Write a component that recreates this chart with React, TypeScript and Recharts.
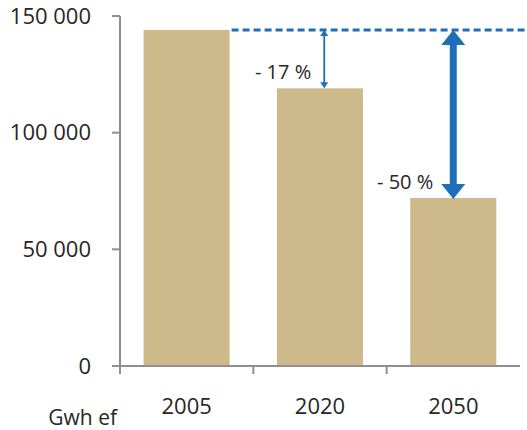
import React from 'react';
import { BarChart, Bar, XAxis, YAxis } from 'recharts';

const years = ['2005', '2020', '2050'];
const consumption = [144000, 119000, 72000];
const yTicks = [0, 50000, 100000, 150000];
const unitLabel = 'Gwh ef';

const data = years.map((year, i) => ({ year, value: consumption[i] }));

const W = 527;
const H = 430;
const BAR = '#CDB98A';
const BLUE = '#1E6EBA';
const AXIS = '#8F8F8F';
const TEXT = '#262626';
const FONT = '"Open Sans", sans-serif';

const fmt = (v: number) => String(v).replace(/\B(?=(\d{3})+(?!\d))/g, ' ');

// bar + the reduction arrow measured against the first year
const BarWithArrow = (props: any) => {
  const { x, y, width, height, index, payload } = props;
  const v = payload.value;
  const base = consumption[0];
  const bottom = y + height;
  const baseY = bottom - (base * height) / v;
  const pct = Math.round((1 - v / base) * 100);

  if (index === 0) {
    return (
      <g>
        <rect x={x} y={y} width={width} height={height} fill={BAR} />
        <line
          x1={x + width + 2}
          x2={W}
          y1={baseY}
          y2={baseY}
          stroke={BLUE}
          strokeWidth={3}
          strokeDasharray="7 4"
        />
      </g>
    );
  }

  const thick = index === 2;
  const ax = thick ? x + width / 2 : x + width * 0.55;
  const hw = thick ? 12 : 4;
  const hh = thick ? 15 : 6;
  const sw = thick ? 7 : 1.8;
  const tipBottom = y + (thick ? 1 : 0);

  return (
    <g>
      <rect x={x} y={y} width={width} height={height} fill={BAR} />
      <line x1={ax} x2={ax} y1={baseY + hh - 1} y2={tipBottom - hh + 1} stroke={BLUE} strokeWidth={sw} />
      <polygon points={`${ax},${baseY} ${ax - hw},${baseY + hh} ${ax + hw},${baseY + hh}`} fill={BLUE} />
      <polygon points={`${ax},${tipBottom} ${ax - hw},${tipBottom - hh} ${ax + hw},${tipBottom - hh}`} fill={BLUE} />
      <text
        x={ax - hw - (thick ? 8 : 9)}
        y={y - 17}
        textAnchor="end"
        dominantBaseline="central"
        fontFamily={FONT}
        fontSize={20}
        fill={TEXT}
      >
        {`- ${pct} %`}
      </text>
    </g>
  );
};

// category label centred, tick mark on the left edge of each band
const XTick = (props: any) => {
  const { x, y, payload } = props;
  const half = payload && payload.offset > 0 ? payload.offset : 400 / years.length / 2;
  return (
    <g>
      <line x1={x - half} x2={x - half} y1={y} y2={y + 8} stroke={AXIS} strokeWidth={2} />
      <text x={x} y={y + 39} textAnchor="middle" dominantBaseline="central" fontFamily={FONT} fontSize={22} fill={TEXT}>
        {payload.value}
      </text>
    </g>
  );
};

const UnitLabel = (props: any) => {
  const { viewBox } = props;
  return (
    <text
      x={viewBox.x - 3}
      y={viewBox.y + 51}
      textAnchor="end"
      dominantBaseline="central"
      fontFamily={FONT}
      fontSize={21}
      fill={TEXT}
    >
      {unitLabel}
    </text>
  );
};

export default function App() {
  return (
    <div style={{ position: 'absolute', left: 0, top: 0, width: W, height: H, background: '#fff' }}>
      <BarChart
        width={W}
        height={H}
        data={data}
        margin={{ top: 16, right: 7, bottom: 0, left: 0 }}
        barCategoryGap="17.7%"
      >
        <XAxis
          dataKey="year"
          height={64}
          interval={0}
          axisLine={{ stroke: AXIS, strokeWidth: 2 }}
          tickLine={false}
          tickSize={0}
          tickMargin={0}
          tick={<XTick />}
          label={<UnitLabel />}
        />
        <YAxis
          width={120}
          domain={[0, 150000]}
          ticks={yTicks}
          interval={0}
          tickFormatter={fmt}
          axisLine={{ stroke: AXIS, strokeWidth: 2 }}
          tickLine={{ stroke: AXIS, strokeWidth: 2 }}
          tickSize={8}
          tickMargin={21}
          tick={{ fill: TEXT, fontSize: 22, fontFamily: FONT }}
        />
        <Bar dataKey="value" shape={<BarWithArrow />} isAnimationActive={false} />
      </BarChart>
    </div>
  );
}
